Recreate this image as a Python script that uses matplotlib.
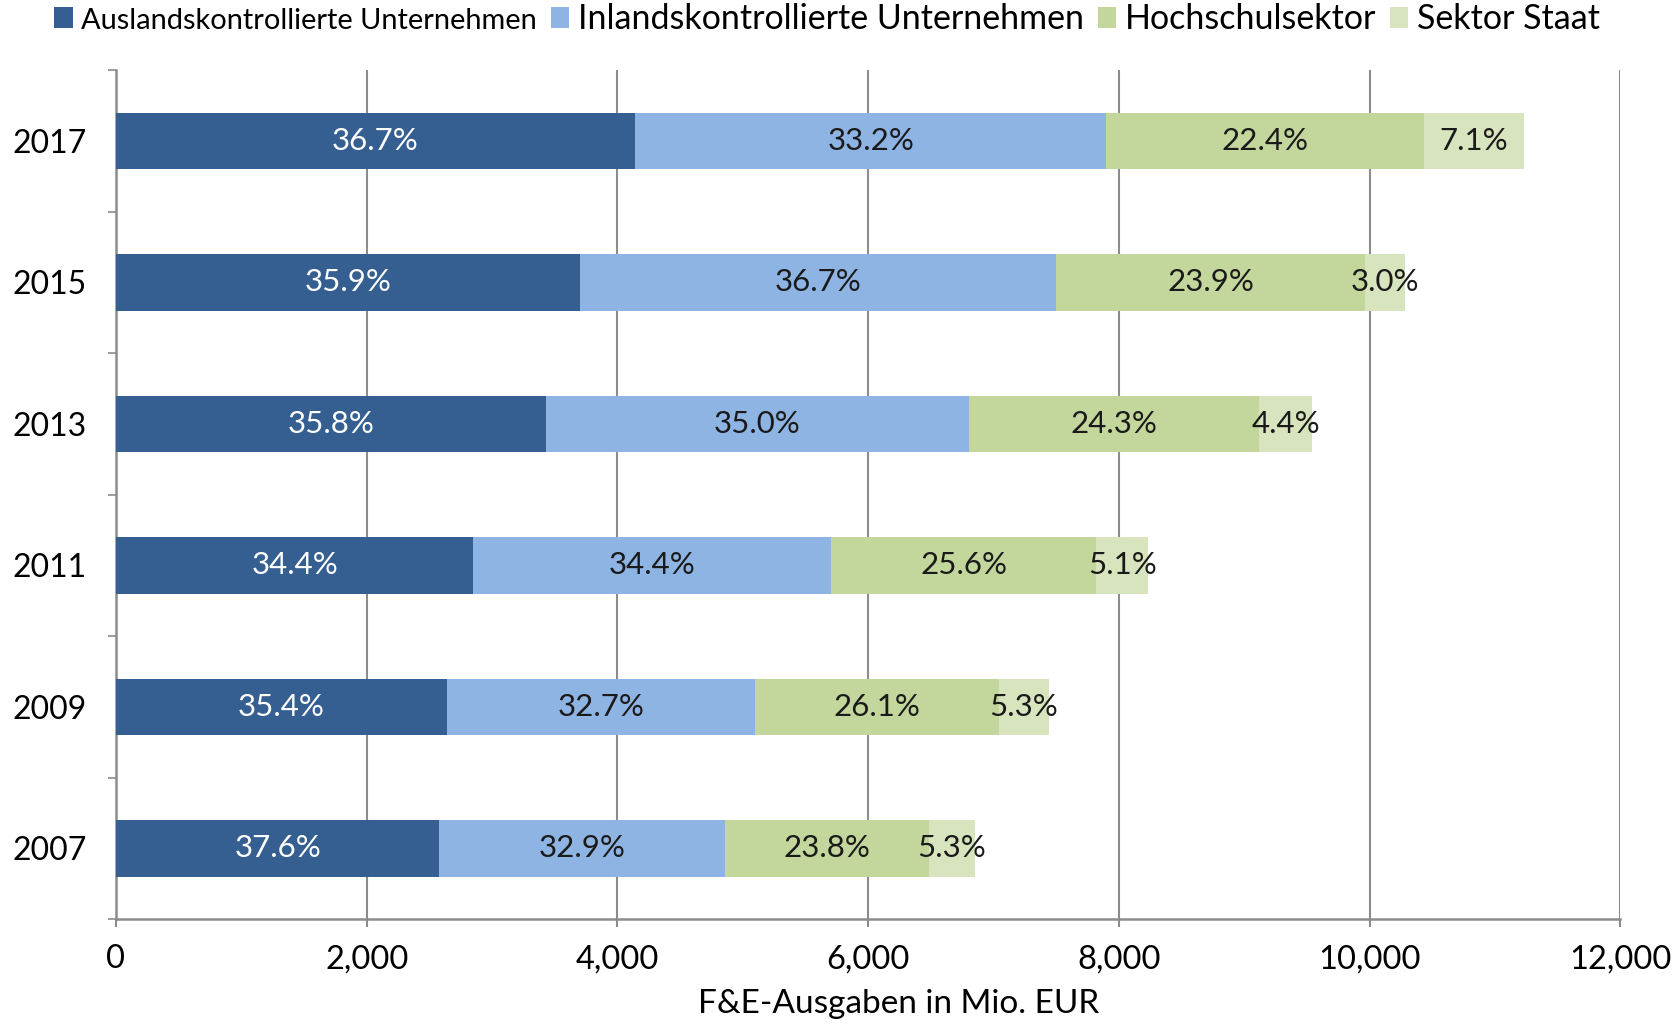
import numpy as np
import matplotlib
matplotlib.use("Agg")
import matplotlib.pyplot as plt
from matplotlib.ticker import FixedLocator, FuncFormatter

plt.rcParams['font.family'] = ['Lato', 'DejaVu Sans']

# data (Mio. EUR)
years = ['2007', '2009', '2011', '2013', '2015', '2017']
ausland = [2580, 2640, 2850, 3430, 3700, 4140]
inland = [2275, 2455, 2855, 3370, 3795, 3760]
hochschul = [1630, 1945, 2115, 2320, 2470, 2530]
staat = [365, 405, 415, 420, 315, 800]

pct_ausland = ['37.6%', '35.4%', '34.4%', '35.8%', '35.9%', '36.7%']
pct_inland = ['32.9%', '32.7%', '34.4%', '35.0%', '36.7%', '33.2%']
pct_hochschul = ['23.8%', '26.1%', '25.6%', '24.3%', '23.9%', '22.4%']
pct_staat = ['5.3%', '5.3%', '5.1%', '4.4%', '3.0%', '7.1%']

names = ['Auslandskontrollierte Unternehmen', 'Inlandskontrollierte Unternehmen',
         'Hochschulsektor', 'Sektor Staat']
colors = ['#365F91', '#8EB4E3', '#C3D69B', '#D7E4BD']
txt_colors = ['white', '#1a1a1a', '#1a1a1a', '#1a1a1a']

series = [ausland, inland, hochschul, staat]
labels = [pct_ausland, pct_inland, pct_hochschul, pct_staat]

fig = plt.figure(figsize=(16.81, 10.24), dpi=100)
ax = fig.add_axes([0.069, 0.1025, 0.895, 0.829])

y = np.arange(len(years))
left = np.zeros(len(years))
for vals, lab, col, tc, name in zip(series, labels, colors, txt_colors, names):
    bars = ax.barh(y, vals, left=left, height=0.4, color=col, label=name, zorder=3)
    ax.bar_label(bars, labels=lab, label_type='center', color=tc, fontsize=22.5)
    left = left + np.array(vals)

ax.set_xlim(0, 12000)
ax.set_ylim(-0.5, len(years) - 0.5)
ax.xaxis.set_major_locator(FixedLocator(np.arange(0, 12001, 2000)))
ax.xaxis.set_major_formatter(FuncFormatter(lambda v, p: '{:,.0f}'.format(v)))
ax.set_yticks(y)
ax.set_yticklabels(years)
ax.yaxis.set_minor_locator(FixedLocator(np.arange(-0.5, len(years), 1.0)))
ax.tick_params(axis='y', which='major', length=0, pad=21, labelsize=23)
ax.tick_params(axis='y', which='minor', length=6, width=1.2, color='#8c8c8c', direction='out')
ax.tick_params(axis='x', which='major', length=6, width=1.5, color='#8c8c8c', pad=12, labelsize=23.5)

ax.grid(axis='x', color='#8c8c8c', linewidth=1.5, zorder=0)
for s in ['top', 'right']:
    ax.spines[s].set_visible(False)
for s in ['left', 'bottom']:
    ax.spines[s].set_color('#8c8c8c')
    ax.spines[s].set_linewidth(1.8)

ax.set_xlabel('F&E-Ausgaben in Mio. EUR', fontsize=24, labelpad=11)
ax.xaxis.label.set_x(0.52)

leg = fig.legend(loc='center', bbox_to_anchor=(0.492, 0.981), ncol=4, frameon=False,
                 fontsize=24.5, handlelength=0.55, handleheight=0.6, handletextpad=0.25,
                 columnspacing=0.4, borderaxespad=0)
leg.get_texts()[0].set_fontsize(20.9)

fig.savefig('out.png', dpi=100)
